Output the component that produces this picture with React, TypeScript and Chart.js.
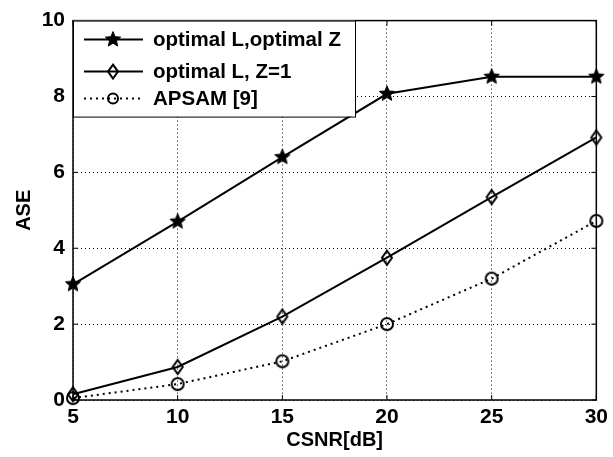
import React, { useEffect, useRef } from "react";
import { Chart, registerables } from "chart.js";
Chart.register(...registerables);

const csnr = [5, 10, 15, 20, 25, 30];
const optimalLOptimalZ = [3.05, 4.7, 6.4, 8.07, 8.52, 8.52];
const optimalLZ1 = [0.15, 0.87, 2.2, 3.75, 5.35, 6.92];
const apsam = [0.05, 0.42, 1.02, 2.0, 3.2, 4.72];
const legendLabels = ["optimal L,optimal Z", "optimal L, Z=1", "APSAM [9]"];
const xTitle = "CSNR[dB]";
const yTitle = "ASE";

const FONT = "'Liberation Sans', Arial, sans-serif";
const NARROW = "'Liberation Sans Narrow', 'Liberation Sans', Arial, sans-serif";

function drawStar(ctx: CanvasRenderingContext2D, cx: number, cy: number, r: number) {
  ctx.save();
  ctx.beginPath();
  for (let i = 0; i < 10; i++) {
    const rad = i % 2 === 0 ? r : r * 0.45;
    const a = -Math.PI / 2 + (i * Math.PI) / 5;
    const px = cx + rad * Math.cos(a);
    const py = cy + rad * Math.sin(a);
    if (i === 0) ctx.moveTo(px, py);
    else ctx.lineTo(px, py);
  }
  ctx.closePath();
  ctx.fillStyle = "#000";
  ctx.fill();
  ctx.lineWidth = 1;
  ctx.strokeStyle = "#000";
  ctx.stroke();
  ctx.restore();
}

function drawDiamond(ctx: CanvasRenderingContext2D, cx: number, cy: number, hw: number, hh: number) {
  ctx.save();
  ctx.beginPath();
  ctx.moveTo(cx, cy - hh);
  ctx.lineTo(cx + hw, cy);
  ctx.lineTo(cx, cy + hh);
  ctx.lineTo(cx - hw, cy);
  ctx.closePath();
  ctx.lineWidth = 2;
  ctx.strokeStyle = "#000";
  ctx.stroke();
  ctx.restore();
}

function drawCircle(ctx: CanvasRenderingContext2D, cx: number, cy: number, r: number) {
  ctx.save();
  ctx.beginPath();
  ctx.arc(cx, cy, r, 0, Math.PI * 2);
  ctx.lineWidth = 2;
  ctx.strokeStyle = "#000";
  ctx.stroke();
  ctx.restore();
}

function makeMarker(size: number, draw: (ctx: CanvasRenderingContext2D, c: number) => void) {
  const cv = document.createElement("canvas");
  cv.width = size;
  cv.height = size;
  const ctx = cv.getContext("2d")!;
  draw(ctx, size / 2);
  return cv;
}

export default function App() {
  const ref = useRef<HTMLCanvasElement>(null);
  useEffect(() => {
    if (!ref.current) return;
    const starImg = makeMarker(20, (c, m) => drawStar(c, m, m, 8));
    const diamondImg = makeMarker(20, (c, m) => drawDiamond(c, m, m, 5, 7));
    const circleImg = makeMarker(20, (c, m) => drawCircle(c, m, m, 6));

    const framePlugin = {
      id: "frameLegend",
      afterDatasetsDraw(chart: any) {
        const { ctx, chartArea } = chart;
        const { left, right, top, bottom } = chartArea;
        ctx.save();
        ctx.setLineDash([]);
        ctx.strokeStyle = "#000";
        ctx.lineWidth = 1.5;
        ctx.strokeRect(left, top, right - left, bottom - top);
        // inward ticks
        ctx.lineWidth = 1;
        const xs = chart.scales.x;
        const ys = chart.scales.y;
        for (const v of csnr) {
          const px = xs.getPixelForValue(v);
          ctx.beginPath();
          ctx.moveTo(px, bottom);
          ctx.lineTo(px, bottom - 5);
          ctx.moveTo(px, top);
          ctx.lineTo(px, top + 5);
          ctx.stroke();
        }
        for (let v = 0; v <= 10; v += 2) {
          const py = ys.getPixelForValue(v);
          ctx.beginPath();
          ctx.moveTo(left, py);
          ctx.lineTo(left + 5, py);
          ctx.moveTo(right, py);
          ctx.lineTo(right - 5, py);
          ctx.stroke();
        }
        // legend
        const lx = left;
        const ly = top;
        const lw = 282;
        const lh = 96;
        ctx.fillStyle = "#fff";
        ctx.fillRect(lx, ly, lw, lh);
        ctx.strokeRect(lx + 0.5, ly + 0.5, lw, lh);
        const rows = [19, 51, 78];
        ctx.font = `bold 20.5px ${FONT}`;
        ctx.textBaseline = "middle";
        ctx.fillStyle = "#000";
        rows.forEach((dy, i) => {
          const cy = ly + dy;
          ctx.save();
          ctx.strokeStyle = "#000";
          ctx.lineWidth = 2;
          if (i === 2) ctx.setLineDash([2, 4]);
          ctx.beginPath();
          ctx.moveTo(lx + 11, cy);
          ctx.lineTo(lx + 70, cy);
          ctx.stroke();
          ctx.restore();
          const mx = lx + 40;
          if (i === 0) drawStar(ctx, mx, cy, 8);
          else if (i === 1) drawDiamond(ctx, mx, cy, 5, 7);
          else drawCircle(ctx, mx, cy, 5);
          ctx.fillStyle = "#000";
          ctx.fillText(legendLabels[i], lx + 80, cy + 1);
        });
        ctx.restore();
      },
    };

    const chart = new Chart(ref.current, {
      type: "line",
      data: {
        datasets: [
          {
            label: legendLabels[0],
            data: csnr.map((x, i) => ({ x, y: optimalLOptimalZ[i] })),
            borderColor: "#000",
            backgroundColor: "rgba(0,0,0,0)",
            borderWidth: 2,
            pointStyle: starImg as any,
            pointRadius: 8,
            clip: false as any,
          },
          {
            label: legendLabels[1],
            data: csnr.map((x, i) => ({ x, y: optimalLZ1[i] })),
            borderColor: "#000",
            backgroundColor: "rgba(0,0,0,0)",
            borderWidth: 2,
            pointStyle: diamondImg as any,
            pointRadius: 7,
            clip: false as any,
          },
          {
            label: legendLabels[2],
            data: csnr.map((x, i) => ({ x, y: apsam[i] })),
            borderColor: "#000",
            backgroundColor: "rgba(0,0,0,0)",
            borderWidth: 2,
            borderDash: [2, 4],
            pointStyle: circleImg as any,
            pointRadius: 6,
            clip: false as any,
          },
        ],
      },
      options: {
        animation: false,
        responsive: false,
        maintainAspectRatio: false,
        layout: { padding: { top: 19, right: 15, left: 0, bottom: 0 }, autoPadding: false } as any,
        plugins: { legend: { display: false }, tooltip: { enabled: false } },
        scales: {
          x: {
            type: "linear",
            min: 5,
            max: 30,
            afterFit: (s: any) => {
              s.height = 57;
            },
            afterBuildTicks: (s: any) => {
              s.ticks = csnr.map((v) => ({ value: v }));
            },
            ticks: {
              color: "#000",
              font: { family: NARROW, size: 21, weight: "bold" },
              padding: 5,
              maxRotation: 0,
            },
            grid: { color: "#000", lineWidth: 1, drawTicks: false },
            border: { display: false, dash: [1, 3] },
            title: {
              display: true,
              text: xTitle,
              color: "#000",
              font: { family: FONT, size: 20, weight: "bold" },
              padding: { top: 0, bottom: 5 },
            },
          },
          y: {
            type: "linear",
            min: 0,
            max: 10,
            afterFit: (s: any) => {
              s.width = 73;
            },
            ticks: {
              stepSize: 2,
              color: "#000",
              font: { family: NARROW, size: 21, weight: "bold" },
              padding: 8,
            },
            grid: { color: "#000", lineWidth: 1, drawTicks: false },
            border: { display: false, dash: [1, 3] },
            title: {
              display: true,
              text: yTitle,
              color: "#000",
              font: { family: FONT, size: 20, weight: "bold" },
              padding: { top: 12, bottom: 0 },
            },
          },
        },
      } as any,
      plugins: [framePlugin],
    });
    return () => chart.destroy();
  }, []);

  return (
    <div style={{ position: "absolute", left: 0, top: 0, width: 613, height: 457, background: "#fff" }}>
      <canvas ref={ref} width={613} height={457} style={{ width: 613, height: 457 }} />
    </div>
  );
}
